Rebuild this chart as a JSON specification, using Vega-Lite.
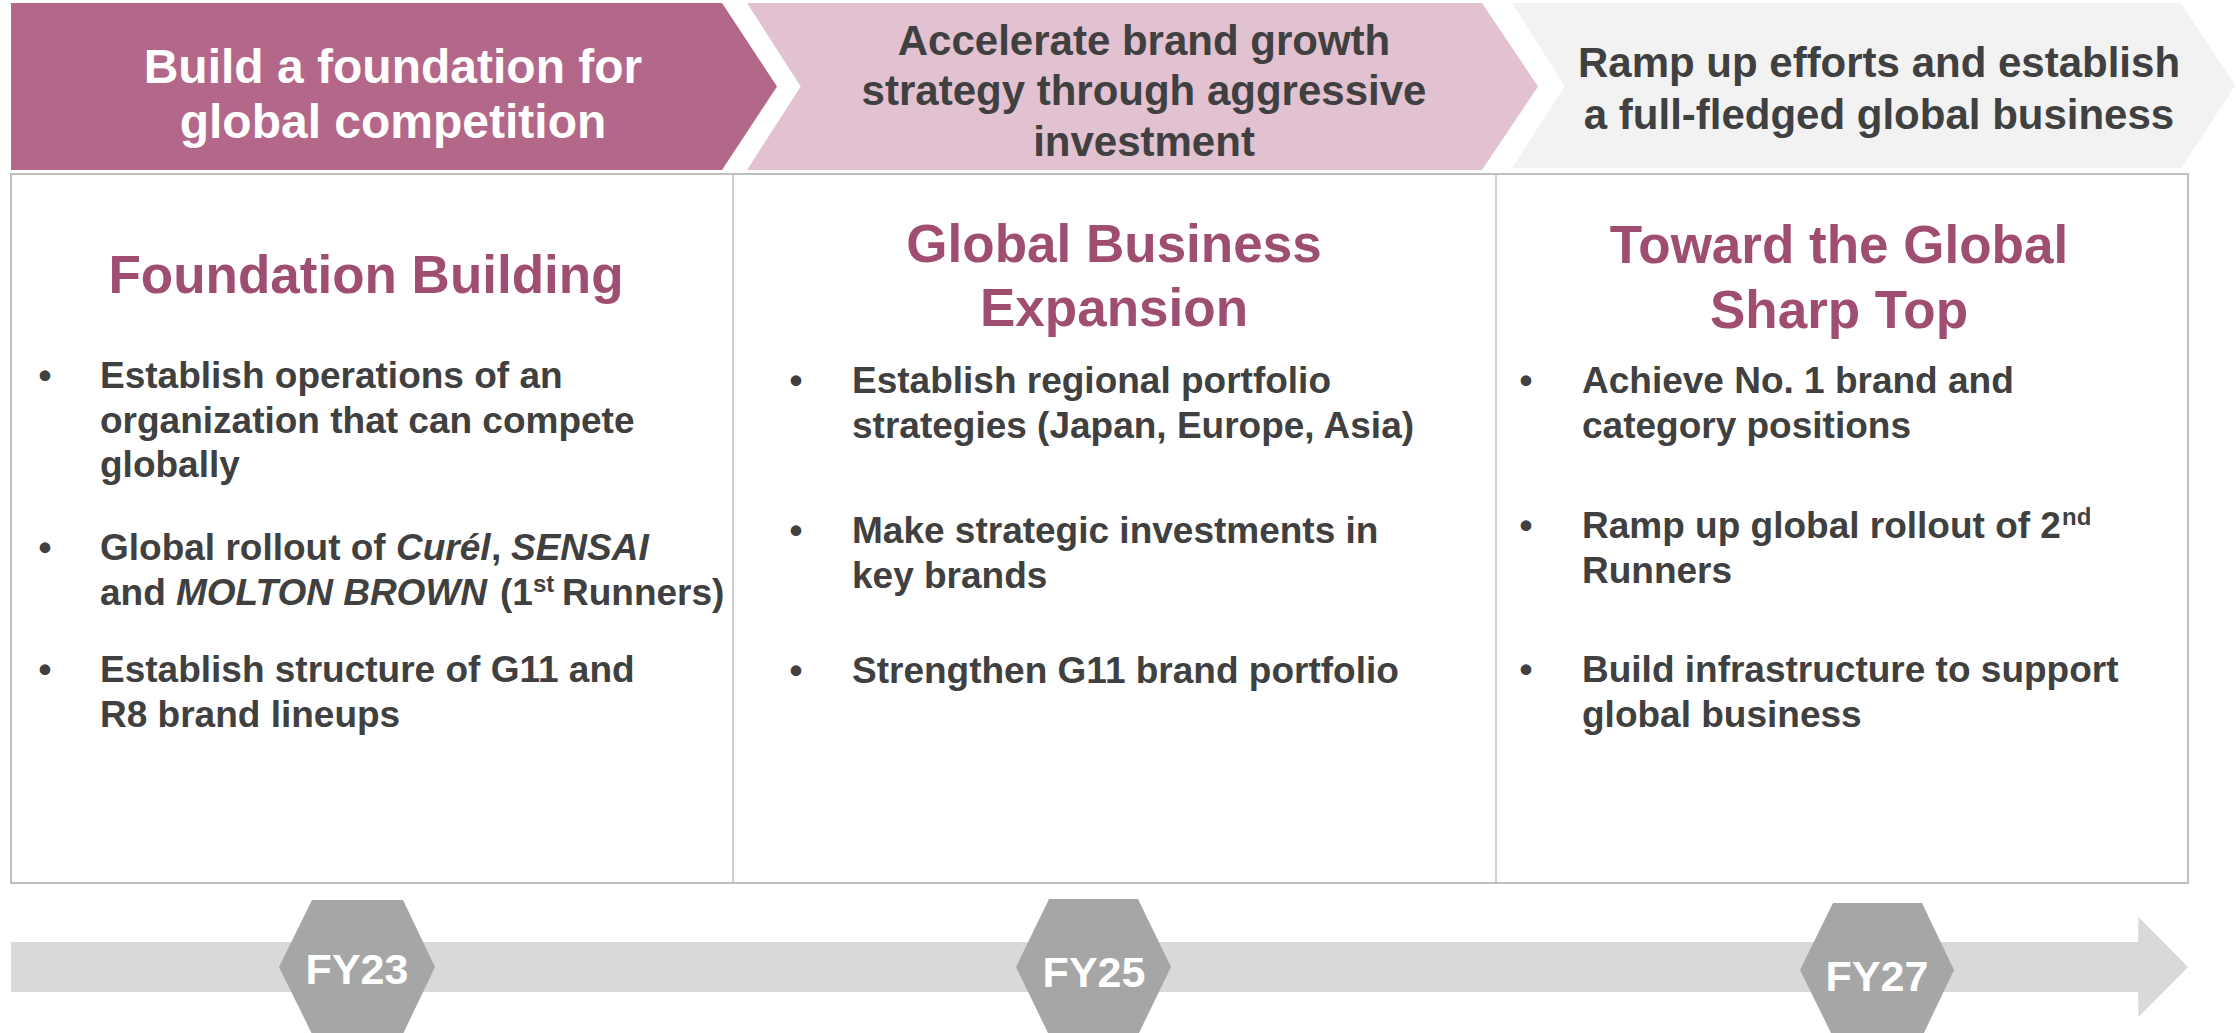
{
  "$schema": "https://vega.github.io/schema/vega-lite/v6.json",
  "width": 2236,
  "height": 1033,
  "padding": 0,
  "autosize": {"type": "none"},
  "background": "white",
  "config": {"view": {"stroke": null}, "text": {"font": "Liberation Sans"}},
  "datasets": {
    "chev": [
      {"part": "c1", "shape": "c1", "x": 11, "y": 3, "y2": 170},
      {"part": "c1", "shape": "c1", "x": 722, "y": 3, "y2": 170},
      {"part": "c1", "shape": "c1", "x": 777, "y": 86.5, "y2": 86.5},
      {"part": "c2t", "shape": "c2", "x": 747, "y": 3, "y2": 3},
      {"part": "c2t", "shape": "c2", "x": 801, "y": 3, "y2": 87},
      {"part": "c2t", "shape": "c2", "x": 1482, "y": 3, "y2": 87},
      {"part": "c2t", "shape": "c2", "x": 1538, "y": 86.5, "y2": 87},
      {"part": "c2b", "shape": "c2", "x": 747, "y": 170, "y2": 170},
      {"part": "c2b", "shape": "c2", "x": 801, "y": 86, "y2": 170},
      {"part": "c2b", "shape": "c2", "x": 1482, "y": 86, "y2": 170},
      {"part": "c2b", "shape": "c2", "x": 1538, "y": 86, "y2": 86.5},
      {"part": "c3t", "shape": "c3", "x": 1512, "y": 3, "y2": 3},
      {"part": "c3t", "shape": "c3", "x": 1565, "y": 3, "y2": 86.5},
      {"part": "c3t", "shape": "c3", "x": 2181, "y": 3, "y2": 86.5},
      {"part": "c3t", "shape": "c3", "x": 2235, "y": 85.5, "y2": 86.5},
      {"part": "c3b", "shape": "c3", "x": 1512, "y": 168, "y2": 168},
      {"part": "c3b", "shape": "c3", "x": 1565, "y": 85.5, "y2": 168},
      {"part": "c3b", "shape": "c3", "x": 2181, "y": 85.5, "y2": 168},
      {"part": "c3b", "shape": "c3", "x": 2235, "y": 85.5, "y2": 86},
      {"part": "arrow", "shape": "arrow", "x": 11, "y": 942, "y2": 992},
      {"part": "arrow", "shape": "arrow", "x": 2138, "y": 942, "y2": 992},
      {"part": "arrow", "shape": "arrow", "x": 2138.5, "y": 917, "y2": 1017},
      {"part": "arrow", "shape": "arrow", "x": 2188, "y": 967, "y2": 967}
    ],
    "hex": [
      {"part": "FY23", "x": 279, "y": 967, "y2": 967},
      {"part": "FY23", "x": 312, "y": 900, "y2": 1034},
      {"part": "FY23", "x": 403, "y": 900, "y2": 1034},
      {"part": "FY23", "x": 435, "y": 967, "y2": 967},
      {"part": "FY25", "x": 1016, "y": 967, "y2": 967},
      {"part": "FY25", "x": 1049, "y": 899, "y2": 1035},
      {"part": "FY25", "x": 1138, "y": 899, "y2": 1035},
      {"part": "FY25", "x": 1171, "y": 967, "y2": 967},
      {"part": "FY27", "x": 1800, "y": 970, "y2": 970},
      {"part": "FY27", "x": 1833, "y": 903, "y2": 1037},
      {"part": "FY27", "x": 1922, "y": 903, "y2": 1037},
      {"part": "FY27", "x": 1954, "y": 970, "y2": 970}
    ],
    "box": [{"x": 11, "x2": 2188, "y": 174, "y2": 883}],
    "dividers": [{"x": 733, "y": 174, "y2": 883}, {"x": 1496, "y": 174, "y2": 883}],
    "hdrW": [
      {"x": 393, "y": 83, "text": "Build a foundation for"},
      {"x": 393, "y": 138, "text": "global competition"}
    ],
    "hdrD": [
      {"x": 1144, "y": 55, "text": "Accelerate brand growth"},
      {"x": 1144, "y": 105, "text": "strategy through aggressive"},
      {"x": 1144, "y": 156, "text": "investment"},
      {"x": 1879, "y": 77, "text": "Ramp up efforts and establish"},
      {"x": 1879, "y": 129, "text": "a full-fledged global business"}
    ],
    "titles": [
      {"x": 366, "y": 293, "text": "Foundation Building"},
      {"x": 1114, "y": 262, "text": "Global Business"},
      {"x": 1114, "y": 326, "text": "Expansion"},
      {"x": 1839, "y": 263, "text": "Toward the Global"},
      {"x": 1839, "y": 328, "text": "Sharp Top"}
    ],
    "dots": [
      {"x": 45, "y": 388}, {"x": 45, "y": 560}, {"x": 45, "y": 682},
      {"x": 796, "y": 393}, {"x": 796, "y": 543}, {"x": 796, "y": 683},
      {"x": 1526, "y": 393}, {"x": 1526, "y": 538}, {"x": 1526, "y": 682}
    ],
    "body": [
      {"x": 100, "y": 388, "text": "Establish operations of an"},
      {"x": 100, "y": 433, "text": "organization that can compete"},
      {"x": 100, "y": 477, "text": "globally"},
      {"x": 100, "y": 560, "text": "Global rollout of"},
      {"x": 491, "y": 560, "text": ","},
      {"x": 100, "y": 605, "text": "and"},
      {"x": 500, "y": 605, "text": "(1"},
      {"x": 562, "y": 605, "text": "Runners)"},
      {"x": 100, "y": 682, "text": "Establish structure of G11 and"},
      {"x": 100, "y": 727, "text": "R8 brand lineups"},
      {"x": 852, "y": 393, "text": "Establish regional portfolio"},
      {"x": 852, "y": 438, "text": "strategies (Japan, Europe, Asia)"},
      {"x": 852, "y": 543, "text": "Make strategic investments in"},
      {"x": 852, "y": 588, "text": "key brands"},
      {"x": 852, "y": 683, "text": "Strengthen G11 brand portfolio"},
      {"x": 1582, "y": 393, "text": "Achieve No. 1 brand and"},
      {"x": 1582, "y": 438, "text": "category positions"},
      {"x": 1582, "y": 538, "text": "Ramp up global rollout of 2"},
      {"x": 1582, "y": 583, "text": "Runners"},
      {"x": 1582, "y": 682, "text": "Build infrastructure to support"},
      {"x": 1582, "y": 727, "text": "global business"}
    ],
    "ital": [
      {"x": 396, "y": 560, "text": "Curél"},
      {"x": 511, "y": 560, "text": "SENSAI"},
      {"x": 176, "y": 605, "text": "MOLTON BROWN"}
    ],
    "sup": [
      {"x": 533, "y": 592, "text": "st"},
      {"x": 2062, "y": 525, "text": "nd"}
    ],
    "fy": [
      {"x": 357, "y": 984, "text": "FY23"},
      {"x": 1094, "y": 987, "text": "FY25"},
      {"x": 1877, "y": 991, "text": "FY27"}
    ]
  },
  "encoding": {
    "x": {"field": "x", "type": "quantitative", "scale": {"domain": [0, 2236], "nice": false, "zero": false}, "axis": null},
    "y": {"field": "y", "type": "quantitative", "scale": {"domain": [0, 1033], "nice": false, "zero": false, "reverse": true}, "axis": null}
  },
  "layer": [
    {
      "data": {"name": "chev"},
      "mark": {"type": "area", "interpolate": "linear", "opacity": 1},
      "encoding": {
        "y2": {"field": "y2"},
        "detail": {"field": "part"},
        "color": {"field": "shape", "type": "nominal", "legend": null,
          "scale": {"domain": ["c1", "c2", "c3", "arrow"], "range": ["#B36789", "#E2C1D0", "#F2F2F2", "#D9D9D9"]}}
      }
    },
    {
      "data": {"name": "hex"},
      "mark": {"type": "area", "interpolate": "linear", "color": "#A6A6A6", "opacity": 1},
      "encoding": {"y2": {"field": "y2"}, "detail": {"field": "part"}}
    },
    {
      "data": {"name": "box"},
      "mark": {"type": "rect", "filled": false, "stroke": "#BFBFBF", "strokeWidth": 2},
      "encoding": {"x2": {"field": "x2"}, "y2": {"field": "y2"}}
    },
    {
      "data": {"name": "dividers"},
      "mark": {"type": "rule", "stroke": "#BFBFBF", "strokeWidth": 1.5},
      "encoding": {"y2": {"field": "y2"}}
    },
    {
      "data": {"name": "hdrW"},
      "mark": {"type": "text", "fontSize": 48, "fontWeight": "bold", "color": "#FFFFFF", "align": "center", "baseline": "alphabetic"},
      "encoding": {"text": {"field": "text"}}
    },
    {
      "data": {"name": "hdrD"},
      "mark": {"type": "text", "fontSize": 42, "fontWeight": "bold", "color": "#404040", "align": "center", "baseline": "alphabetic"},
      "encoding": {"text": {"field": "text"}}
    },
    {
      "data": {"name": "titles"},
      "mark": {"type": "text", "fontSize": 53, "fontWeight": "bold", "color": "#9F4E71", "align": "center", "baseline": "alphabetic"},
      "encoding": {"text": {"field": "text"}}
    },
    {
      "data": {"name": "dots"},
      "mark": {"type": "text", "text": "•", "fontSize": 37, "fontWeight": "bold", "color": "#404040", "align": "center", "baseline": "alphabetic"}
    },
    {
      "data": {"name": "body"},
      "mark": {"type": "text", "fontSize": 37, "fontWeight": "bold", "color": "#404040", "align": "left", "baseline": "alphabetic"},
      "encoding": {"text": {"field": "text"}}
    },
    {
      "data": {"name": "ital"},
      "mark": {"type": "text", "fontSize": 37, "fontWeight": "bold", "fontStyle": "italic", "color": "#404040", "align": "left", "baseline": "alphabetic"},
      "encoding": {"text": {"field": "text"}}
    },
    {
      "data": {"name": "sup"},
      "mark": {"type": "text", "fontSize": 24, "fontWeight": "bold", "color": "#404040", "align": "left", "baseline": "alphabetic"},
      "encoding": {"text": {"field": "text"}}
    },
    {
      "data": {"name": "fy"},
      "mark": {"type": "text", "fontSize": 43, "fontWeight": "bold", "color": "#FFFFFF", "align": "center", "baseline": "alphabetic"},
      "encoding": {"text": {"field": "text"}}
    }
  ]
}
